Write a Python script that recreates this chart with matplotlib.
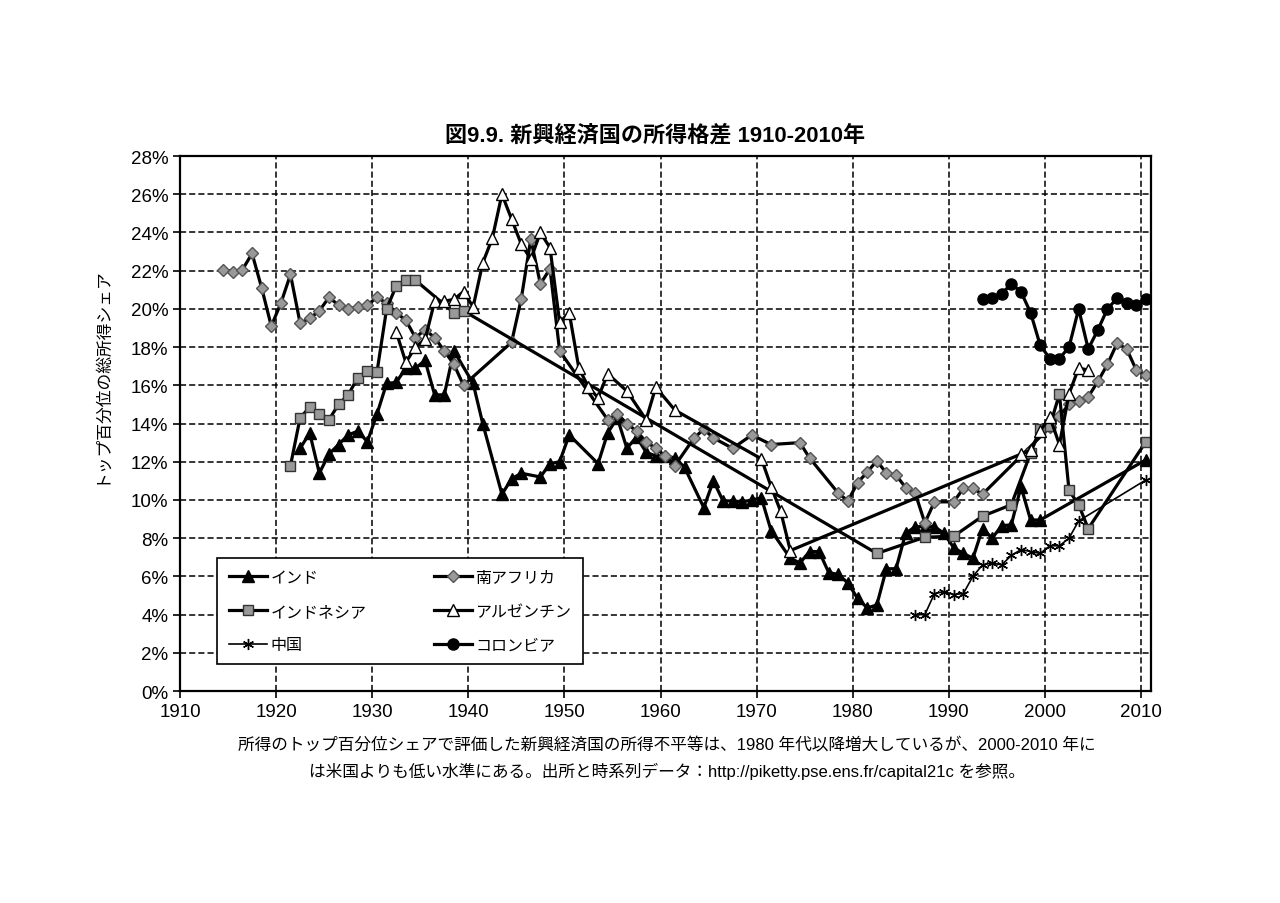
import matplotlib
matplotlib.use("Agg")
import matplotlib.pyplot as plt
import numpy as np

plt.rcParams['font.family'] = ['Liberation Sans', 'Noto Sans CJK JP']

# top 1% income share (%), by country
india_years = [1922, 1923, 1924, 1925, 1926, 1927, 1928, 1929, 1930, 1931, 1932, 1933, 1934, 1935,
               1936, 1937, 1938, 1940, 1941, 1943, 1944, 1945, 1947, 1948, 1949, 1950, 1953, 1954,
               1955, 1956, 1957, 1958, 1959, 1960, 1961, 1962, 1964, 1965, 1966, 1967, 1968, 1969,
               1970, 1971, 1973, 1974, 1975, 1976, 1977, 1978, 1979, 1980, 1981, 1982, 1983, 1984,
               1985, 1986, 1987, 1988, 1989, 1990, 1991, 1992, 1993, 1994, 1995, 1996, 1997, 1998,
               1999, 2010]
india = [12.7, 13.5, 11.4, 12.4, 12.9, 13.4, 13.6, 13.05, 14.5, 16.1, 16.15, 16.9, 16.9, 17.3,
         15.5, 15.5, 17.8, 16.1, 14.0, 10.3, 11.1, 11.4, 11.2, 11.9, 12.0, 13.4, 11.9, 13.5,
         14.3, 12.7, 13.3, 12.5, 12.3, 12.3, 12.2, 11.7, 9.6, 11.0, 9.95, 9.95, 9.9, 10.0,
         10.1, 8.4, 6.95, 6.7, 7.3, 7.3, 6.2, 6.1, 5.65, 4.85, 4.35, 4.5, 6.4, 6.4,
         8.25, 8.6, 8.6, 8.6, 8.25, 7.5, 7.2, 6.95, 8.5, 8.0, 8.65, 8.7, 10.7, 8.95,
         8.95, 12.1]

safrica_years = [1914, 1915, 1916, 1917, 1918, 1919, 1920, 1921, 1922, 1923, 1924, 1925, 1926, 1927,
                 1928, 1929, 1930, 1931, 1932, 1933, 1934, 1935, 1936, 1937, 1938, 1939, 1944, 1945,
                 1946, 1947, 1948, 1949, 1954, 1955, 1956, 1957, 1958, 1959, 1960, 1961, 1963, 1964,
                 1965, 1967, 1969, 1971, 1974, 1975, 1978, 1979, 1980, 1981, 1982, 1983, 1984, 1985,
                 1986, 1987, 1988, 1990, 1991, 1992, 1993, 2000, 2001, 2002, 2003, 2004, 2005, 2006,
                 2007, 2008, 2009, 2010]
safrica = [22.05, 21.95, 22.05, 22.9, 21.1, 19.1, 20.3, 21.8, 19.25, 19.5, 19.9, 20.6, 20.2, 20.0,
           20.1, 20.2, 20.6, 20.3, 19.8, 19.4, 18.5, 18.9, 18.5, 17.8, 17.1, 16.0, 18.25, 20.5,
           23.65, 21.3, 22.1, 17.8, 14.2, 14.5, 14.0, 13.6, 13.05, 12.7, 12.3, 11.8, 13.25, 13.7,
           13.25, 12.7, 13.4, 12.9, 13.0, 12.2, 10.35, 9.95, 10.9, 11.45, 12.05, 11.4, 11.3, 10.65,
           10.35, 8.8, 9.9, 9.9, 10.6, 10.6, 10.3, 13.8, 14.4, 15.0, 15.2, 15.4, 16.2, 17.1,
           18.2, 17.9, 16.8, 16.55]

indonesia_years = [1921, 1922, 1923, 1924, 1925, 1926, 1927, 1928, 1929, 1930, 1931, 1932, 1933, 1934,
                   1938, 1939, 1982, 1987, 1990, 1993, 1996, 1998, 1999, 2000, 2001, 2002, 2003, 2004,
                   2010]
indonesia = [11.8, 14.3, 14.85, 14.5, 14.2, 15.0, 15.5, 16.4, 16.75, 16.7, 20.0, 21.2, 21.5, 21.5,
             19.8, 19.9, 7.2, 8.05, 8.1, 9.15, 9.75, 12.45, 13.7, 13.85, 15.55, 10.5, 9.75, 8.5,
             13.05]

argentina_years = [1932, 1933, 1934, 1935, 1936, 1937, 1938, 1939, 1940, 1941, 1942, 1943, 1944, 1945,
                   1946, 1947, 1948, 1949, 1950, 1951, 1952, 1953, 1954, 1956, 1958, 1959, 1961, 1970,
                   1971, 1972, 1973, 1997, 1998, 1999, 2000, 2001, 2002, 2003, 2004]
argentina = [18.8, 17.2, 18.0, 18.4, 20.4, 20.4, 20.5, 20.9, 20.1, 22.4, 23.7, 26.0, 24.7, 23.4,
             22.6, 24.0, 23.2, 19.3, 19.8, 16.9, 15.9, 15.35, 16.6, 15.7, 14.2, 15.9, 14.7, 12.15,
             10.7, 9.4, 7.35, 12.4, 12.6, 13.6, 14.35, 12.9, 15.55, 16.9, 16.8]

china_years = [1986, 1987, 1988, 1989, 1990, 1991, 1992, 1993, 1994, 1995, 1996, 1997, 1998, 1999,
               2000, 2001, 2002, 2003, 2010]
china = [4.0, 4.0, 5.1, 5.2, 5.05, 5.1, 6.0, 6.6, 6.7, 6.6, 7.1, 7.4, 7.3, 7.2,
         7.6, 7.6, 8.0, 8.9, 11.05]

colombia_years = [1993, 1994, 1995, 1996, 1997, 1998, 1999, 2000, 2001, 2002, 2003, 2004, 2005, 2006,
                  2007, 2008, 2009, 2010]
colombia = [20.5, 20.55, 20.8, 21.3, 20.9, 19.8, 18.1, 17.4, 17.4, 18.0, 20.0, 17.9, 18.9, 20.0,
            20.55, 20.3, 20.2, 20.5]

fig = plt.figure(figsize=(12.8, 9.04), dpi=100)
ax = fig.add_axes([0.1406, 0.2345, 0.7584, 0.5918])

def mid(years):
    # points sit in the middle of each year
    return np.array(years) + 0.5

l_ind, = ax.plot(mid(india_years), india, color='black', lw=2.3, marker='^', ms=8,
                 mfc='black', mec='black', label='インド')
l_saf, = ax.plot(mid(safrica_years), safrica, color='black', lw=2.3, marker='D', ms=6.5,
                 mfc='#999999', mec='#555555', mew=1, label='南アフリカ')
l_idn, = ax.plot(mid(indonesia_years), indonesia, color='black', lw=2.3, marker='s', ms=7.5,
                 mfc='#999999', mec='#333333', mew=1, label='インドネシア')
l_arg, = ax.plot(mid(argentina_years), argentina, color='black', lw=2.3, marker='^', ms=8,
                 mfc='white', mec='black', mew=1, label='アルゼンチン')
l_chn, = ax.plot(mid(china_years), china, color='black', lw=1.2, marker=(6, 2, 0), ms=8,
                 mec='black', mew=1, label='中国')
l_col, = ax.plot(mid(colombia_years), colombia, color='black', lw=2.3, marker='o', ms=8,
                 mfc='black', mec='black', label='コロンビア')

ax.set_xlim(1910, 2011)
ax.set_ylim(0, 28)
ax.set_xticks(np.arange(1910, 2011, 10))
ax.set_yticks(np.arange(0, 29, 2))
ax.set_yticklabels(['%d%%' % v for v in range(0, 29, 2)])
ax.tick_params(labelsize=13.5, direction='out', length=5, width=1.2)
ax.grid(True, color='black', linestyle=(0, (4, 2)), lw=1.1)
for s in ax.spines.values():
    s.set_linewidth(1.6)

fig.text(0.0785, 0.5845, 'トップ百分位の総所得シェア', rotation=90, ha='center', va='center',
         fontsize=12.1)

fig.text(0.512, 0.850, '図9.9. 新興経済国の所得格差 1910-2010年', ha='center', va='center',
         fontsize=15.9, fontweight='bold')
fig.text(0.521, 0.175, '所得のトップ百分位シェアで評価した新興経済国の所得不平等は、1980 年代以降増大しているが、2000-2010 年に',
         ha='center', va='center', fontsize=12)
fig.text(0.521, 0.147, 'は米国よりも低い水準にある。出所と時系列データ：http://piketty.pse.ens.fr/capital21c を参照。',
         ha='center', va='center', fontsize=12)

handles = [l_ind, l_idn, l_chn, l_saf, l_arg, l_col]
leg = ax.legend(handles=handles, ncol=2, loc='upper left', bbox_to_anchor=(0.1695, 0.3816),
                bbox_transform=fig.transFigure, borderaxespad=0, fontsize=11.5,
                fancybox=False, framealpha=1, edgecolor='black', handlelength=2.4,
                handletextpad=0.2, columnspacing=4.2, labelspacing=1.17, borderpad=0.75)
leg.get_frame().set_linewidth(1.2)

fig.savefig('out.png', dpi=100)
